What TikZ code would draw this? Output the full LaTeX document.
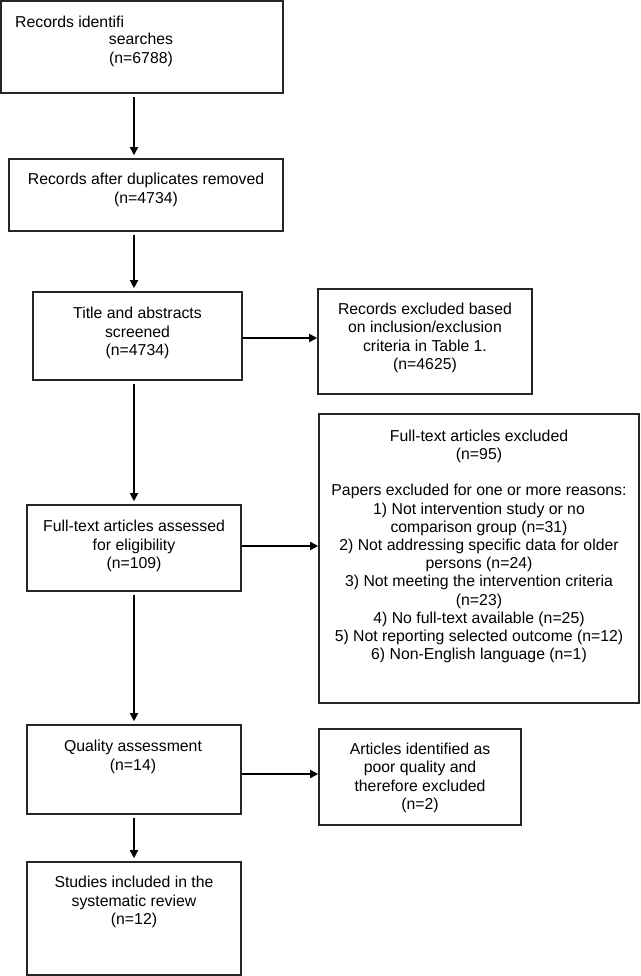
\documentclass[tikz,border=0pt]{standalone}
\usepackage{fontspec}
\setmainfont{Liberation Sans}
\usetikzlibrary{arrows.meta}

\tikzset{
    box/.style={draw=black!85, line width=1.6pt, inner sep=0pt},
    txt/.style={align=center, inner sep=0pt, font=\fontsize{15.8pt}{18.2pt}\selectfont},
    arr/.style={-{Triangle[length=8pt,width=8pt]}, line width=1.5pt},
    down/.style={arr, shorten <=3pt, shorten >=3pt},
}

\begin{document}
\begin{tikzpicture}[x=1pt, y=-1pt]
        \useasboundingbox (0,0) rectangle (640,976);

        % boxes, left column
        \node[box, minimum width=282pt, minimum height=92pt] (ident) at (142,47) {};
        \node[box, minimum width=274pt, minimum height=72pt] (dedup) at (146,195) {};
        \node[box, minimum width=209pt, minimum height=88pt] (screen) at (137.5,336) {};
        \node[box, minimum width=214pt, minimum height=86pt] (elig) at (134,548) {};
        \node[box, minimum width=214pt, minimum height=89pt] (quality) at (134,769.5) {};
        \node[box, minimum width=214pt, minimum height=113pt] (incl) at (134,918.5) {};

        % boxes, right column
        \node[box, minimum width=214pt, minimum height=105pt] (exclrec) at (425,341.5) {};
        \node[box, minimum width=320pt, minimum height=289pt] (exclfull) at (479,558.5) {};
        \node[box, minimum width=202pt, minimum height=96pt] (poor) at (420,777) {};

        % texts
        \node[txt, anchor=west] (identa) at (15,22) {Records identifi};
        \node[txt] (identb) at (141,50) {searches\\(n=6788)};
        \node[txt] (deduptxt) at (146,190) {Records after duplicates removed\\(n=4734)};
        \node[txt] (screentxt) at (137.5,333) {Title and abstracts\\screened\\(n=4734)};
        \node[txt] (eligtxt) at (134,546) {Full-text articles assessed\\for eligibility\\(n=109)};
        \node[txt] (qualitytxt) at (133,757) {Quality assessment\\(n=14)};
        \node[txt] (incltxt) at (134,902) {Studies included in the\\systematic review\\(n=12)};
        \node[txt] (exclrectxt) at (425,338) {Records excluded based\\on inclusion/exclusion\\criteria in Table 1.\\(n=4625)};
        \node[txt] (exclfulltxt) at (479,546.5) {Full-text articles excluded\\(n=95)\\[18.2pt]
            Papers excluded for one or more reasons:\\
            1) Not intervention study or no\\comparison group (n=31)\\
            2) Not addressing specific data for older\\persons (n=24)\\
            3) Not meeting the intervention criteria\\(n=23)\\
            4) No full-text available (n=25)\\
            5) Not reporting selected outcome (n=12)\\
            6) Non-English language (n=1)};
        \node[txt] (poortxt) at (420,778) {Articles identified as\\poor quality and\\therefore excluded\\(n=2)};

        % arrows
        \coordinate (ax) at (134,0);
        \draw[down] (ident.south -| ax) -- (dedup.north -| ax);
        \draw[down] (dedup.south -| ax) -- (screen.north -| ax);
        \draw[down] (screen.south -| ax) -- (elig.north -| ax);
        \draw[down] (elig.south -| ax) -- (quality.north -| ax);
        \draw[down] (quality.south -| ax) -- (incl.north -| ax);

        \coordinate (ay1) at (0,338);
        \coordinate (ay2) at (0,546);
        \coordinate (ay3) at (0,774);
        \draw[arr] (screen.east |- ay1) -- (exclrec.west |- ay1);
        \draw[arr] (elig.east |- ay2) -- (exclfull.west |- ay2);
        \draw[arr] (quality.east |- ay3) -- (poor.west |- ay3);

\end{tikzpicture}
\end{document}
